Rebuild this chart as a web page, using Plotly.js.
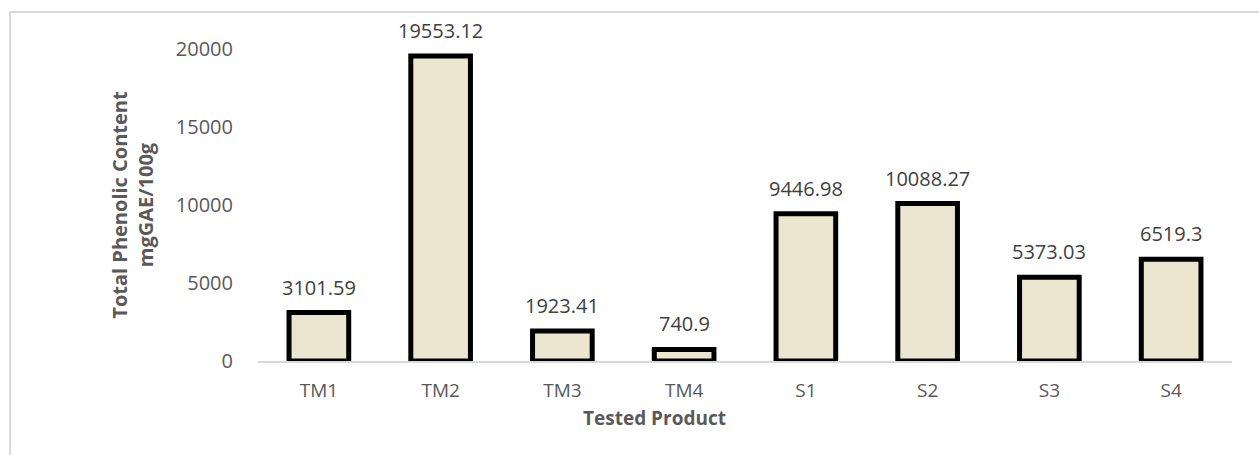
<!DOCTYPE html>
<html>
<head>
<meta charset="utf-8">
<script src="https://cdn.plot.ly/plotly-3.0.1.min.js"></script>
<style>
  html, body { margin: 0; padding: 0; background: #fff; overflow: hidden; }
  #wrap { position: relative; width: 1259px; height: 455px; }
  #chart { position: absolute; left: 0; top: 0; width: 1259px; height: 455px; }
  #frame { position: absolute; left: 9px; top: 11px; width: 1300px; height: 500px;
           border: 2px solid #d9d9d9; pointer-events: none; box-sizing: border-box; }
</style>
</head>
<body>
<div id="wrap">
  <div id="chart"></div>
  <div id="frame"></div>
</div>
<script>
const categories = ["TM1", "TM2", "TM3", "TM4", "S1", "S2", "S3", "S4"];
const phenolicValues = [3101.59, 19553.12, 1923.41, 740.9, 9446.98, 10088.27, 5373.03, 6519.3];
const valueLabels = ["3101.59", "19553.12", "1923.41", "740.9", "9446.98", "10088.27", "5373.03", "6519.3"];
const yTickValues = [0, 5000, 10000, 15000, 20000];
const yTickLabels = ["0", "5000", "10000", "15000", "20000"];

const trace = {
  type: "bar",
  x: categories,
  y: phenolicValues,
  width: 0.49,
  marker: { color: "#ece6d0", line: { color: "#000000", width: 5 } },
  hoverinfo: "x+y"
};

const labelAnnotations = categories.map((c, i) => ({
  x: c, y: phenolicValues[i], xref: "x", yref: "y",
  text: valueLabels[i], showarrow: false,
  yanchor: "bottom", yshift: 10,
  font: { family: "Open Sans, sans-serif", size: 20, color: "#404040" }
}));

labelAnnotations.push({
  x: (654 - 258) / 974, y: 0, xref: "paper", yref: "paper",
  yanchor: "top", yshift: -42, showarrow: false,
  text: "<b>Tested Product</b>",
  font: { family: "Open Sans, sans-serif", size: 19, color: "#595959" }
});

const layout = {
  width: 1259,
  height: 455,
  margin: { l: 258, r: 27, t: 49, b: 94 },
  paper_bgcolor: "rgba(0,0,0,0)",
  plot_bgcolor: "rgba(0,0,0,0)",
  showlegend: false,
  font: { family: "Open Sans, sans-serif", color: "#595959" },
  annotations: labelAnnotations,
  xaxis: {
    type: "category",
    showgrid: false,
    showline: true,
    linecolor: "#d9d9d9",
    linewidth: 2,
    ticks: "",
    ticklabelstandoff: 11,
    tickfont: { family: "Open Sans, sans-serif", size: 19, color: "#595959" }
  },
  yaxis: {
    range: [0, 20000],
    tickvals: yTickValues,
    ticktext: yTickLabels,
    showgrid: false,
    zeroline: false,
    showline: false,
    ticks: "",
    ticklabelstandoff: 24,
    tickfont: { family: "Open Sans, sans-serif", size: 20, color: "#595959" },
    title: { text: "Total Phenolic Content<br>mgGAE/100g", standoff: 16,
             font: { family: "Open Sans, sans-serif", size: 20, color: "#595959", weight: "bold" } }
  }
};

Plotly.newPlot("chart", [trace], layout, { displayModeBar: false, staticPlot: true });
</script>
</body>
</html>
